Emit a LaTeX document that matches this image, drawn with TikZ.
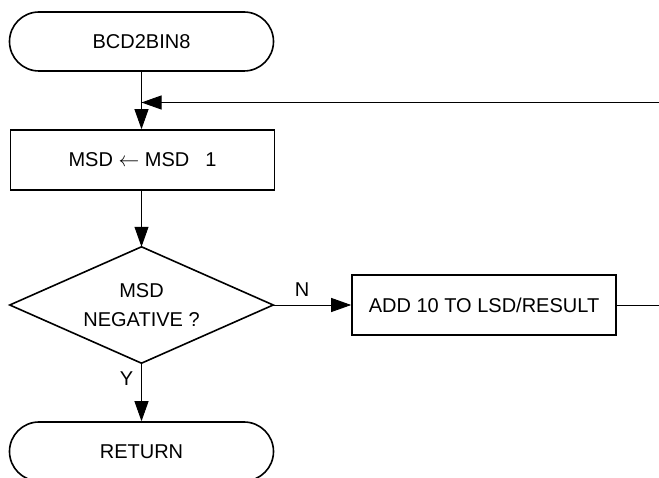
\documentclass[tikz,border=0pt]{standalone}
\usepackage{fontspec}
\setmainfont{Liberation Sans}
\usetikzlibrary{arrows.meta}
\begin{document}
\begin{tikzpicture}[x=1pt,y=-1pt,
  every node/.style={font=\fontsize{20}{29}\selectfont},
  term/.style={draw,line width=1.6pt,rounded corners=29.5pt,minimum width=264pt,minimum height=59pt,inner sep=0pt},
  procbox/.style={draw,line width=1.6pt,minimum width=264pt,minimum height=60pt,inner sep=0pt},
  decbox/.style={minimum width=263pt,minimum height=116pt,inner sep=0pt,align=center},
  conn/.style={line width=0.9pt},
  arr/.style={conn,-{Triangle[length=20pt,width=14pt]}},
  lbl/.style={inner sep=0pt}]
\useasboundingbox (0,0) rectangle (659,478);
\clip (0,0) rectangle (659,478);
\node[term] (start) at (141.5,41.5) {BCD2BIN8};
\node[procbox] (msd) at (142.5,160) {MSD $\leftarrow$ MSD\hspace{16pt}1};
\node[decbox] (dec) at (141.5,305) {MSD\\NEGATIVE ?};
\draw[line width=1.6pt,line join=miter] (dec.north) -- (dec.east) -- (dec.south) -- (dec.west) -- cycle;
\node[procbox] (add) at (484,305) {ADD 10 TO LSD/RESULT};
\node[term] (ret) at (141.5,451.5) {RETURN};
\coordinate (rin) at (660,102.5);
\coordinate (rout) at (660,305);
\draw[arr] (start.south) -- (start.south |- msd.north);
\draw[arr] (rin) -- (start.south |- rin);
\draw[arr] (msd.south -| dec.north) -- (dec.north);
\draw[arr] (dec.east) -- (add.west);
\draw[conn] (add.east) -- (rout);
\draw[arr] (dec.south) -- (ret.north);
\node[lbl] (nlab) at (302,290) {N};
\node[lbl] (ylab) at (126.5,379) {Y};
\end{tikzpicture}
\end{document}
